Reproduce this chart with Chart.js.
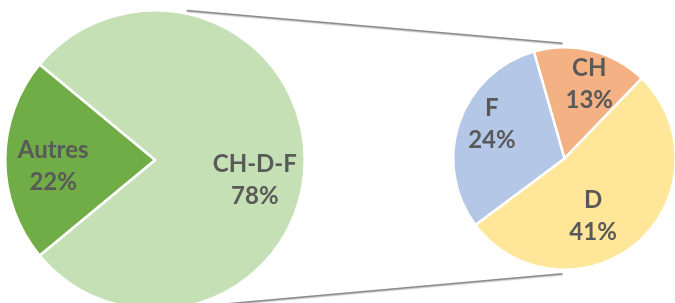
<!DOCTYPE html>
<html>
<head>
<meta charset="utf-8">
<script src="https://cdn.jsdelivr.net/npm/chart.js@4"></script>
<style>
  html, body { margin: 0; padding: 0; background: #fff; overflow: hidden; }
  #stage { position: relative; width: 675px; height: 303px; overflow: hidden; }
  .box { position: absolute; }
  #mainBox { left: 4px; top: 9px; width: 302px; height: 302px; }
  #subBox { left: 452px; top: 46px; width: 225px; height: 225px; }
  #links { position: absolute; left: 0; top: 0; }
</style>
</head>
<body>
<div id="stage">
  <canvas id="links" width="675" height="303"></canvas>
  <div class="box" id="mainBox"><canvas id="mainPie"></canvas></div>
  <div class="box" id="subBox"><canvas id="subPie"></canvas></div>
</div>
<script>
// main pie: the split slice + the rest
const mainLabels = ['CH-D-F', 'Autres'];
const mainValues = [78, 22];
const mainColors = ['#C5E0B4', '#70AD47'];

// secondary pie: breakdown of CH-D-F (shares of the whole)
const subLabels = ['CH', 'D', 'F'];
const subValues = [13, 41, 24];
const subColors = ['#F4B183', '#FFE699', '#B4C7E7'];

const TEXT = '#595959';
const FONT = 'bold 24px Lato, "Open Sans", sans-serif';

// labels inside each slice: name on first line, percent (of whole) below
const sliceLabels = {
  id: 'sliceLabels',
  afterDatasetsDraw(chart, args, opts) {
    const { ctx } = chart;
    const meta = chart.getDatasetMeta(0);
    const vals = chart.data.datasets[0].data;
    ctx.save();
    ctx.font = FONT;
    ctx.fillStyle = TEXT;
    ctx.textAlign = 'center';
    ctx.textBaseline = 'alphabetic';
    meta.data.forEach((arc, i) => {
      const { x, y, startAngle, endAngle, outerRadius } = arc.getProps(['x', 'y', 'startAngle', 'endAngle', 'outerRadius'], true);
      const mid = (startAngle + endAngle) / 2;
      const r = outerRadius * opts.factor;
      const nudge = (opts.nudge && opts.nudge[i]) || [0, 0];
      const cx = x + Math.cos(mid) * r + nudge[0];
      const cy = y + Math.sin(mid) * r + nudge[1];
      ctx.fillText(chart.data.labels[i], cx, cy - 4);
      ctx.fillText(vals[i] + '%', cx, cy + 28);
    });
    ctx.restore();
  }
};

const pieOpts = (rotation, factor, nudge) => ({
  responsive: true,
  maintainAspectRatio: false,
  animation: false,
  rotation: rotation,
  layout: { padding: 0 },
  events: [],
  plugins: {
    legend: { display: false },
    tooltip: { enabled: false },
    sliceLabels: { factor, nudge }
  }
});

const mainChart = new Chart(document.getElementById('mainPie'), {
  type: 'pie',
  data: {
    labels: mainLabels,
    datasets: [{ data: mainValues, backgroundColor: mainColors, borderColor: '#fff', borderWidth: 2.5 }]
  },
  options: pieOpts(-50.4, 0.68, [[-2, 16], [0, 2]]),
  plugins: [sliceLabels]
});

const subChart = new Chart(document.getElementById('subPie'), {
  type: 'pie',
  data: {
    labels: subLabels,
    datasets: [{ data: subValues, backgroundColor: subColors, borderColor: '#fff', borderWidth: 2.5 }]
  },
  options: pieOpts(-16, 0.66, [[7, -7], [-20, -2], [-3, -15]]),
  plugins: [sliceLabels]
});

// connector lines between the two pies, from the drawn arc geometry
const drawLinks = () => {
  const cv = document.getElementById('links');
  const ctx = cv.getContext('2d');
  const stage = document.getElementById('stage').getBoundingClientRect();
  const pos = (chart) => {
    const b = chart.canvas.getBoundingClientRect();
    const a = chart.getDatasetMeta(0).data[0];
    return { x: b.left - stage.left + a.x, y: b.top - stage.top + a.y, r: a.outerRadius };
  };
  const m = pos(mainChart), s = pos(subChart);
  const tilt = 12 * Math.PI / 180;
  const lines = [
    [m.x + Math.sin(tilt) * (m.r + 3), m.y - Math.cos(tilt) * (m.r + 3), s.x - 2, s.y - s.r - 4],
    [m.x + Math.sin(tilt) * (m.r + 1), m.y + Math.cos(tilt) * (m.r + 1), s.x - 2, s.y + s.r + 4]
  ];
  ctx.save();
  ctx.strokeStyle = '#8c8c8c';
  ctx.lineWidth = 1.5;
  ctx.shadowColor = 'rgba(0,0,0,0.25)';
  ctx.shadowOffsetY = 1;
  ctx.shadowBlur = 1;
  lines.forEach(([x1, y1, x2, y2]) => {
    ctx.beginPath();
    ctx.moveTo(x1, y1);
    ctx.lineTo(x2, y2);
    ctx.stroke();
  });
  ctx.restore();
};
drawLinks();
</script>
</body>
</html>
